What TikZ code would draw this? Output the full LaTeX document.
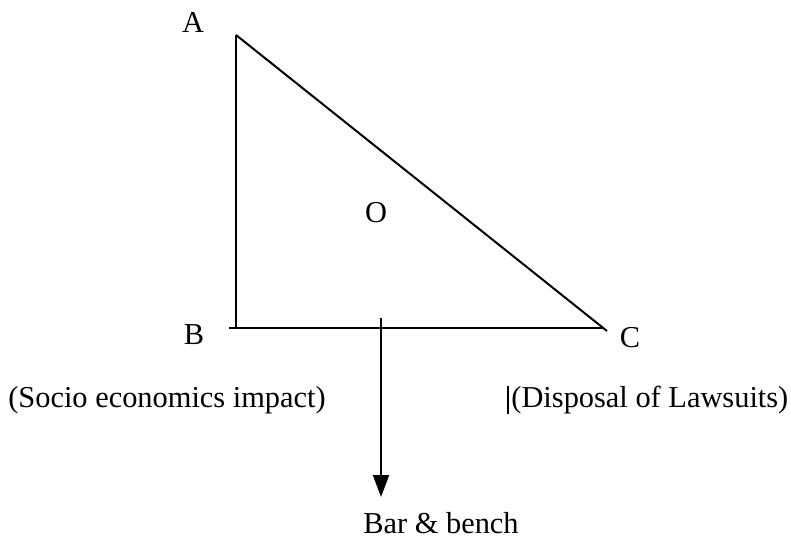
\documentclass[tikz,border=0pt]{standalone}
\usepackage{fontspec}
\setmainfont{Liberation Serif}
\usetikzlibrary{arrows.meta,positioning}
\tikzset{>={Triangle[width=8pt,length=11pt]},lbl/.style={font=\fontsize{15.2}{18}\selectfont,inner sep=0pt},side/.style={line width=1pt},arr/.style={->,line width=1pt}}

\begin{document}
\begin{tikzpicture}[x=0.5pt,y=-0.5pt]
\useasboundingbox (0,0) rectangle (791,539);
\coordinate (A) at (236,35);
\coordinate (B) at (236,328);
\coordinate (C) at (607,331);
\coordinate (Cb) at (603,328);
\coordinate (top) at (381,318);
\coordinate (bot) at (381,497);
\draw[side] (A)--(B);
\draw[side] ([xshift=-3.5pt]B)--(Cb);
\draw[side] (A)--(C);
\node[lbl] (la) at (193,22) {A};
\node[lbl] (lb) at (194,335) {B};
\node[lbl] (lc) at (630,338) {C};
\node[lbl] (lo) at (376,213) {O};
\node[lbl] (socio) at (167,400) {(Socio economics impact)};
\node[lbl,anchor=west] (dis) at (511,400) {(Disposal of Lawsuits)};
\draw[side] ([xshift=-1.5pt]dis.north west)--([xshift=-1.5pt]dis.south west);
\draw[arr] (top)--(bot);
\node[lbl] (bench) at (441,523) {Bar \& bench};
\end{tikzpicture}
\end{document}
